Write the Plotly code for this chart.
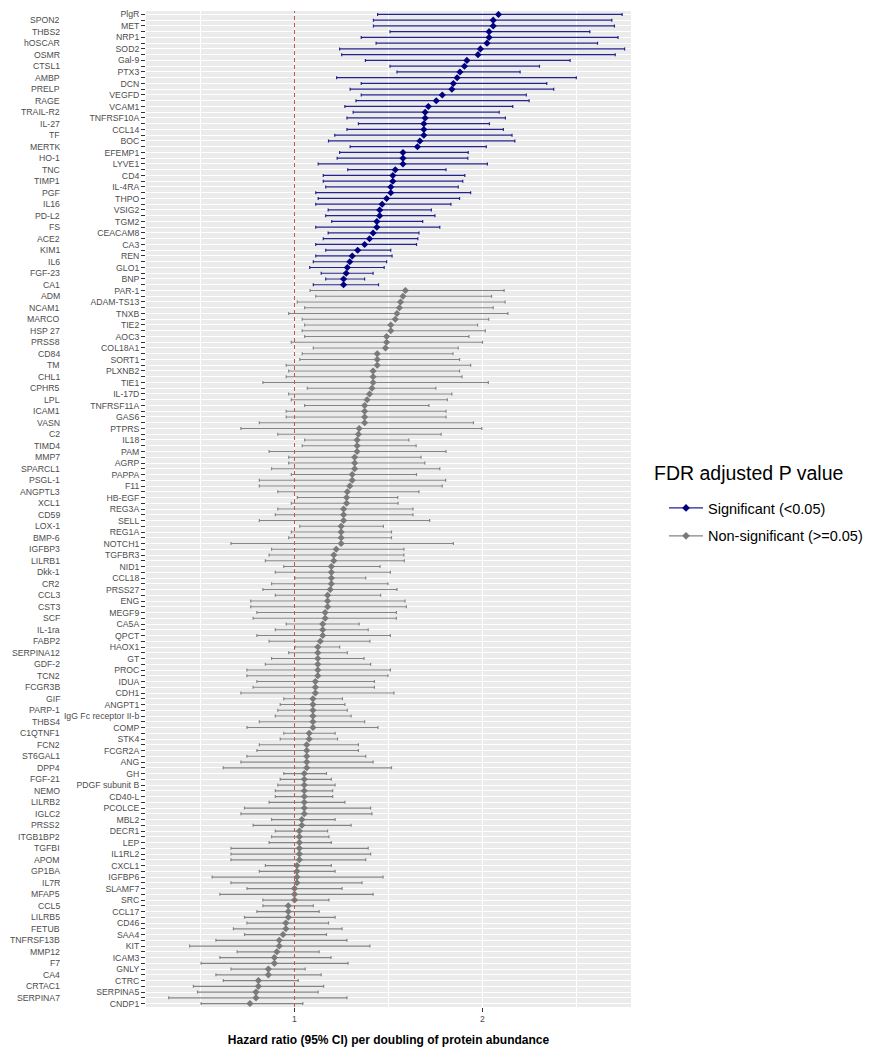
import plotly.graph_objects as go

# ---------------- data (top-to-bottom order) ----------------
sig_proteins = ["PlgR", "SPON2", "MET", "THBS2", "NRP1", "hOSCAR", "SOD2", "OSMR", "Gal-9", "CTSL1",
                "PTX3", "AMBP", "DCN", "PRELP", "VEGFD", "RAGE", "VCAM1", "TRAIL-R2", "TNFRSF10A", "IL-27",
                "CCL14", "TF", "BOC", "MERTK", "EFEMP1", "HO-1", "LYVE1", "TNC", "CD4", "TIMP1",
                "IL-4RA", "PGF", "THPO", "IL16", "VSIG2", "PD-L2", "TGM2", "FS", "CEACAM8", "ACE2",
                "CA3", "KIM1", "REN", "IL6", "GLO1", "FGF-23", "BNP", "CA1"]
sig_hr = [2.085, 2.057, 2.057, 2.035, 2.035, 2.024, 1.989, 1.976, 1.917, 1.904,
          1.880, 1.865, 1.845, 1.837, 1.786, 1.754, 1.712, 1.695, 1.695, 1.688,
          1.688, 1.688, 1.667, 1.654, 1.577, 1.577, 1.577, 1.536, 1.523, 1.523,
          1.512, 1.512, 1.490, 1.466, 1.453, 1.453, 1.438, 1.438, 1.418, 1.399,
          1.373, 1.336, 1.307, 1.294, 1.281, 1.275, 1.261, 1.261]
sig_lo = [1.442, 1.420, 1.420, 1.508, 1.355, 1.434, 1.240, 1.251, 1.377, 1.508,
          1.545, 1.224, 1.355, 1.296, 1.355, 1.327, 1.268, 1.312, 1.279, 1.340,
          1.279, 1.214, 1.181, 1.296, 1.240, 1.227, 1.126, 1.283, 1.153, 1.153,
          1.166, 1.113, 1.126, 1.113, 1.179, 1.166, 1.198, 1.113, 1.179, 1.153,
          1.113, 1.166, 1.113, 1.100, 1.081, 1.142, 1.166, 1.100]
sig_hi = [2.743, 2.688, 2.702, 2.571, 2.721, 2.612, 2.756, 2.706, 2.466, 2.303,
          2.200, 2.499, 2.342, 2.379, 2.233, 2.248, 2.161, 2.089, 2.122, 2.037,
          2.111, 2.157, 2.172, 2.020, 1.924, 1.922, 2.026, 1.806, 1.906, 1.895,
          1.871, 1.937, 1.878, 1.832, 1.728, 1.747, 1.682, 1.773, 1.662, 1.656,
          1.649, 1.512, 1.519, 1.490, 1.477, 1.418, 1.373, 1.447]

nonsig_proteins = ["PAR-1", "ADM", "ADAM-TS13", "NCAM1", "TNXB", "MARCO", "TIE2", "HSP 27", "AOC3", "PRSS8",
                   "COL18A1", "CD84", "SORT1", "TM", "PLXNB2", "CHL1", "TIE1", "CPHR5", "IL-17D", "LPL",
                   "TNFRSF11A", "ICAM1", "GAS6", "VASN", "PTPRS", "C2", "IL18", "TIMD4", "PAM", "MMP7",
                   "AGRP", "SPARCL1", "PAPPA", "PSGL-1", "F11", "ANGPTL3", "HB-EGF", "XCL1", "REG3A", "CD59",
                   "SELL", "LOX-1", "REG1A", "BMP-6", "NOTCH1", "IGFBP3", "TGFBR3", "LILRB1", "NID1", "Dkk-1",
                   "CCL18", "CR2", "PRSS27", "CCL3", "ENG", "CST3", "MEGF9", "SCF", "CA5A", "IL-1ra",
                   "QPCT", "FABP2", "HAOX1", "SERPINA12", "GT", "GDF-2", "PROC", "TCN2", "IDUA", "FCGR3B",
                   "CDH1", "GIF", "ANGPT1", "PARP-1", "IgG Fc receptor II-b", "THBS4", "COMP", "C1QTNF1", "STK4", "FCN2",
                   "FCGR2A", "ST6GAL1", "ANG", "DPP4", "GH", "FGF-21", "PDGF subunit B", "NEMO", "CD40-L", "LILRB2",
                   "PCOLCE", "IGLC2", "MBL2", "PRSS2", "DECR1", "ITGB1BP2", "LEP", "TGFBI", "IL1RL2", "APOM",
                   "CXCL1", "GP1BA", "IGFBP6", "IL7R", "SLAMF7", "MFAP5", "SRC", "CCL5", "CCL17", "LILRB5",
                   "CD46", "FETUB", "SAA4", "TNFRSF13B", "KIT", "MMP12", "ICAM3", "F7", "GNLY", "CA4",
                   "CTRC", "CRTAC1", "SERPINA5", "SERPINA7", "CNDP1"]
nonsig_hr = [1.590, 1.577, 1.564, 1.558, 1.545, 1.536, 1.512, 1.512, 1.490, 1.490,
             1.484, 1.440, 1.440, 1.440, 1.418, 1.418, 1.418, 1.412, 1.399, 1.386,
             1.373, 1.373, 1.373, 1.373, 1.344, 1.340, 1.333, 1.333, 1.333, 1.320,
             1.320, 1.320, 1.307, 1.307, 1.294, 1.281, 1.277, 1.277, 1.261, 1.261,
             1.261, 1.248, 1.248, 1.248, 1.248, 1.222, 1.209, 1.209, 1.196, 1.196,
             1.196, 1.196, 1.190, 1.176, 1.176, 1.176, 1.163, 1.163, 1.150, 1.150,
             1.150, 1.137, 1.124, 1.124, 1.124, 1.124, 1.124, 1.124, 1.111, 1.111,
             1.111, 1.098, 1.098, 1.098, 1.098, 1.098, 1.098, 1.078, 1.078, 1.065,
             1.065, 1.065, 1.065, 1.065, 1.052, 1.052, 1.052, 1.052, 1.052, 1.052,
             1.052, 1.052, 1.039, 1.039, 1.026, 1.026, 1.026, 1.026, 1.026, 1.026,
             1.013, 1.013, 1.013, 1.013, 1.000, 1.000, 1.000, 0.967, 0.967, 0.967,
             0.954, 0.954, 0.939, 0.919, 0.919, 0.906, 0.893, 0.893, 0.861, 0.861,
             0.808, 0.808, 0.795, 0.795, 0.763]
nonsig_lo = [1.083, 1.113, 1.015, 1.054, 0.969, 1.041, 1.054, 1.041, 1.054, 0.983,
             1.100, 1.041, 1.028, 0.956, 0.969, 0.956, 0.832, 1.068, 0.969, 0.983,
             1.054, 0.956, 0.956, 0.813, 0.715, 0.911, 1.054, 1.041, 0.865, 0.969,
             0.969, 0.878, 0.983, 0.813, 0.813, 0.911, 1.015, 0.983, 0.911, 0.898,
             0.813, 1.028, 0.983, 0.969, 0.662, 0.878, 0.865, 0.845, 0.943, 0.898,
             1.002, 0.878, 0.832, 0.898, 0.767, 0.767, 0.800, 0.780, 0.956, 0.898,
             0.800, 0.865, 1.002, 0.969, 0.878, 0.845, 0.747, 0.747, 0.800, 0.780,
             0.715, 0.943, 0.924, 0.911, 0.898, 0.813, 0.747, 0.943, 0.924, 0.813,
             0.800, 0.747, 0.715, 0.621, 0.943, 0.924, 0.911, 0.898, 0.898, 0.865,
             0.734, 0.715, 0.878, 0.780, 0.898, 0.878, 0.865, 0.662, 0.662, 0.662,
             0.845, 0.813, 0.562, 0.662, 0.747, 0.603, 0.832, 0.832, 0.800, 0.734,
             0.747, 0.675, 0.734, 0.582, 0.442, 0.695, 0.603, 0.503, 0.662, 0.582,
             0.621, 0.462, 0.484, 0.331, 0.503]
nonsig_hi = [2.115, 2.048, 2.120, 2.057, 2.135, 2.033, 1.974, 2.015, 1.928, 2.000,
             1.871, 1.843, 1.878, 1.937, 1.878, 1.891, 2.031, 1.752, 1.837, 1.813,
             1.715, 1.806, 1.806, 1.952, 1.996, 1.780, 1.608, 1.647, 1.806, 1.673,
             1.693, 1.773, 1.649, 1.804, 1.786, 1.662, 1.549, 1.551, 1.630, 1.630,
             1.719, 1.473, 1.516, 1.516, 1.845, 1.582, 1.582, 1.584, 1.455, 1.510,
             1.379, 1.497, 1.545, 1.458, 1.588, 1.595, 1.542, 1.542, 1.344, 1.392,
             1.510, 1.401, 1.240, 1.281, 1.370, 1.405, 1.510, 1.497, 1.425, 1.425,
             1.529, 1.255, 1.268, 1.281, 1.301, 1.373, 1.444, 1.216, 1.229, 1.340,
             1.340, 1.379, 1.418, 1.516, 1.170, 1.196, 1.216, 1.203, 1.203, 1.268,
             1.405, 1.412, 1.216, 1.301, 1.176, 1.183, 1.196, 1.392, 1.405, 1.379,
             1.196, 1.216, 1.471, 1.359, 1.253, 1.418, 1.183, 1.100, 1.131, 1.216,
             1.181, 1.253, 1.170, 1.279, 1.401, 1.131, 1.194, 1.285, 1.057, 1.142,
             1.020, 1.155, 1.126, 1.279, 1.044]

series_names = ["Significant (<0.05)", "Non-significant (>=0.05)"]
legend_title = "FDR adjusted P value"
x_title = "Hazard ratio (95% CI) per doubling of protein abundance"
REF_HR = 1
x_tick_vals = [1, 2]
x_minor_vals = [0.5, 1.5, 2.5]

# ---------------- styling ----------------
FONT = "Liberation Sans, Arial, sans-serif"
BLUE_PT, BLUE_LN = "#000080", "#23238f"
GREY_PT, GREY_LN = "#7a7a7a", "#858585"
# the page body has an 8px default margin, so the figure is 16px smaller than the window
W, H = 857, 1041
ML, MR, MT, MB = 138, 234, 3, 42
panel_w = W - ML - MR
panel_h = H - MT - MB

order = sig_proteins + nonsig_proteins          # top to bottom
cat_array = list(reversed(order))               # bottom to top for the axis

fig = go.Figure()


def add_series(names, hr, lo, hi, pt_col, ln_col, label):
    fig.add_trace(go.Scatter(
        x=hr, y=names, mode="markers",
        marker=dict(symbol="diamond", size=5.5, color=pt_col),
        error_x=dict(type="data", symmetric=False,
                     array=[h - m for h, m in zip(hi, hr)],
                     arrayminus=[m - l for m, l in zip(hr, lo)],
                     color=ln_col, thickness=1.2, width=1.5),
        showlegend=False, name=label, hoverinfo="x+y"))
    # legend key (line + point)
    fig.add_trace(go.Scatter(
        x=[None], y=[None], mode="lines+markers", name=label, legendgroup=label,
        line=dict(color=ln_col, width=1.2),
        marker=dict(symbol="diamond", size=6, color=pt_col)))


add_series(sig_proteins, sig_hr, sig_lo, sig_hi, BLUE_PT, BLUE_LN, series_names[0])
add_series(nonsig_proteins, nonsig_hr, nonsig_lo, nonsig_hi, GREY_PT, GREY_LN, series_names[1])

fig.add_vline(x=REF_HR, line=dict(color="#c25555", width=1, dash="4px,3px"), layer="above")

# dodged labels: inner column on the axis, outer column as annotations
inner_text = [name if i % 2 == 0 else "" for i, name in enumerate(order)]
outer_x = (54 - ML) / panel_w
for i, name in enumerate(order):
    if i % 2 == 1:
        fig.add_annotation(x=outer_x, xref="paper", y=name, yref="y", text=name,
                           showarrow=False, xanchor="right", yanchor="middle",
                           font=dict(family=FONT, size=8.7, color="#4d4d4d"))

# legend title as a free text (larger gap to the keys, as in the reference)
fig.add_annotation(x=(644 - ML) / panel_w, xref="paper", y=1 - (465 - MT) / panel_h, yref="paper",
                   text=legend_title, showarrow=False, xanchor="left", yanchor="middle",
                   font=dict(family=FONT, size=19.5, color="black"))

fig.update_layout(
    width=W, height=H,
    margin=dict(l=ML, r=MR, t=MT, b=MB, autoexpand=False),
    paper_bgcolor="white", plot_bgcolor="#ebebeb",
    font=dict(family=FONT, color="#4d4d4d"),
    xaxis=dict(range=[0.21, 2.79], tickmode="array", tickvals=x_tick_vals,
               ticks="outside", ticklen=4, tickcolor="#333333", tickwidth=1,
               tickfont=dict(family=FONT, size=8.7, color="#4d4d4d"),
               showgrid=True, gridcolor="white", gridwidth=1.1, zeroline=False,
               minor=dict(tickvals=x_minor_vals, showgrid=True, gridcolor="white",
                          gridwidth=0.5, ticks=""),
               showline=False, automargin=False,
               title=dict(text="<b>" + x_title + "</b>",
                          font=dict(family=FONT, size=12, color="black"), standoff=12)),
    yaxis=dict(type="category", categoryorder="array", categoryarray=cat_array,
               range=[-0.6, len(order) - 0.4], tickmode="array",
               tickvals=order, ticktext=inner_text,
               ticks="outside", ticklen=4, tickcolor="#333333", tickwidth=1,
               tickfont=dict(family=FONT, size=8.7, color="#4d4d4d"),
               showgrid=True, gridcolor="white", gridwidth=1, zeroline=False,
               showline=False, automargin=False),
    legend=dict(font=dict(family=FONT, size=14.5, color="black"),
                x=(656 - ML) / panel_w, xanchor="left",
                y=1 - (484 - MT) / panel_h, yanchor="top",
                bgcolor="rgba(0,0,0,0)", tracegroupgap=6, itemwidth=34),
    showlegend=True,
)

fig.write_html("out.html")
